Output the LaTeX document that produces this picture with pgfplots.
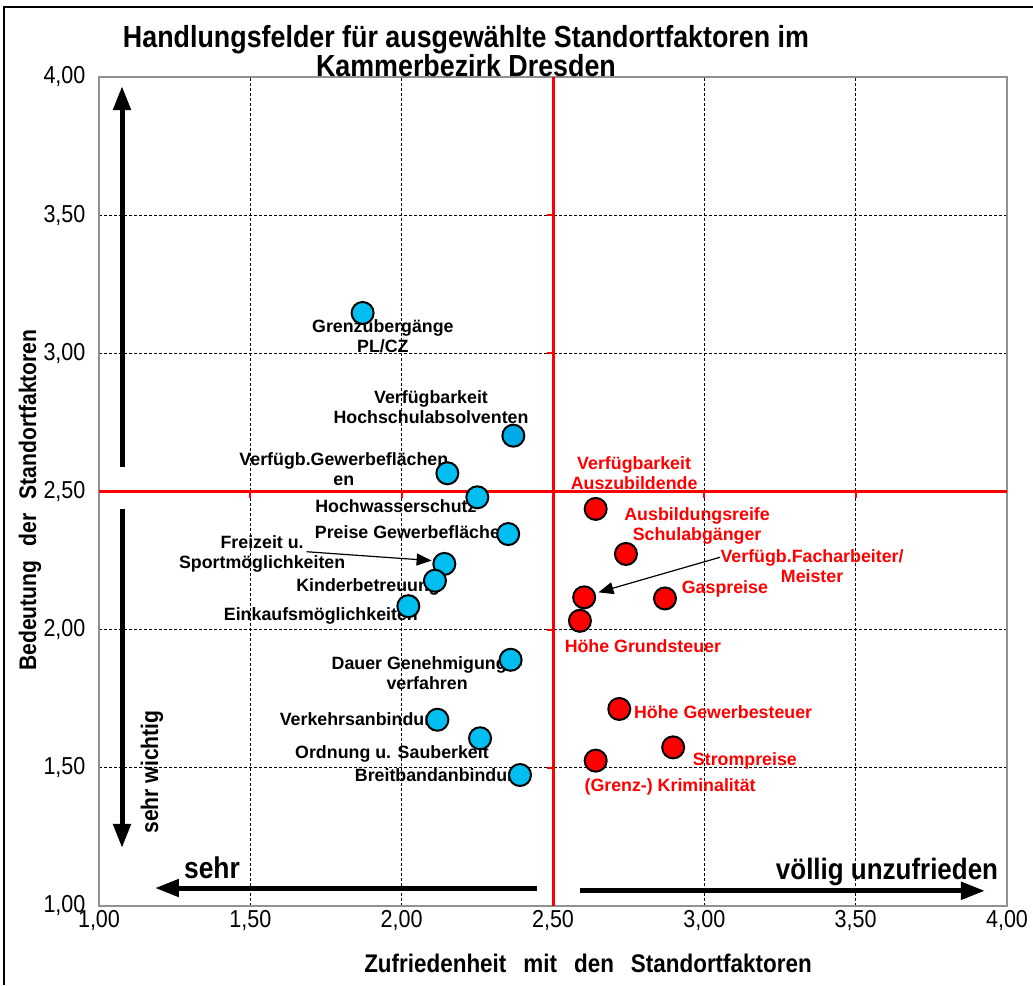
\documentclass[border=0pt]{standalone}
\usepackage{fontspec}
\setmainfont{Liberation Sans}
\newfontfamily\narrowfont[FakeStretch=0.88]{Liberation Sans}
\usepackage{pgfplots}
\pgfplotsset{compat=1.18}
\usetikzlibrary{arrows.meta}
\definecolor{ptblue}{RGB}{0,190,240}
\definecolor{ptblued}{RGB}{0,170,230}
\definecolor{axgray}{RGB}{145,145,145}
\newcommand\lbl{\fontsize{17.8}{20}\selectfont\bfseries}

\begin{document}
\begin{tikzpicture}[x=1pt,y=1pt]
\useasboundingbox (-99,-79) rectangle (934,906);
\fill[white] (-99,-79) rectangle (934,906);
\draw[black,line width=1.5pt] (-95,-79) -- (-95,899) -- (934,899);
\begin{axis}[
  at={(0,0)}, anchor=south west,
  scale only axis, width=908pt, height=829pt,
  xmin=1, xmax=4, ymin=1, ymax=4,
  xtick={1,1.5,2,2.5,3,3.5,4}, ytick={1,1.5,2,2.5,3,3.5,4},
  grid=major,
  grid style={black, line width=0.7pt, dash pattern=on 3pt off 2pt},
  axis line style={axgray, line width=2pt},
  tick style={draw=none},
  ticklabel style={font=\narrowfont\fontsize{24.5}{24.5}\selectfont},
  yticklabel style={xshift=-10pt},
  xticklabel style={yshift=-1pt},
  /pgf/number format/.cd, fixed, fixed zerofill, precision=2, use comma, assume math mode=true,
  /pgfplots/.cd,
  unbounded coords=jump,
]
% red quadrant lines
\addplot[red, line width=3pt] coordinates {(2.5,1) (2.5,4)};
\addplot[red, line width=3pt] coordinates {(1,2.5) (4,2.5)};
\addplot[red, line width=2pt] coordinates {
 (2.48,1.5) (2.5,1.5) (nan,nan) (2.48,2) (2.5,2) (nan,nan)
 (2.48,3) (2.5,3) (nan,nan) (2.48,3.5) (2.5,3.5) (nan,nan)
 (1.5,2.478) (1.5,2.5) (nan,nan) (2,2.478) (2,2.5) (nan,nan)
 (3,2.478) (3,2.5) (nan,nan) (3.5,2.478) (3.5,2.5)};
% big direction arrows
\addplot[black, line width=5pt, -{Triangle[length=24pt,width=17pt]}] coordinates {(1.076,2.587) (1.076,3.967)};
\addplot[black, line width=5pt, -{Triangle[length=24pt,width=17pt]}] coordinates {(1.076,2.435) (1.076,1.210)};
\addplot[black, line width=5pt, -{Triangle[length=24pt,width=17pt]}] coordinates {(2.447,1.065) (1.185,1.065)};
\addplot[black, line width=5pt, -{Triangle[length=24pt,width=17pt]}] coordinates {(2.589,1.055) (3.927,1.055)};
% pointer arrows
\addplot[black, line width=1.2pt, -{Triangle[length=15pt,width=12pt]}] coordinates {(1.686,2.282) (2.099,2.250)};
\addplot[black, line width=1.2pt, -{Triangle[length=15pt,width=12pt]}] coordinates {(3.052,2.262) (2.650,2.135)};
% blue points
\addplot[only marks, mark=*, mark size=11pt, mark options={fill=ptblue, draw=black, line width=2pt}] coordinates {
 (1.871,3.146) (2.151,2.566) (2.250,2.479) (2.352,2.346) (2.141,2.238)
 (2.110,2.177) (2.022,2.085) (2.360,1.891) (2.118,1.674) (2.259,1.607) (2.391,1.474)};
\addplot[only marks, mark=*, mark size=11pt, mark options={fill=ptblued, draw=black, line width=2pt}] coordinates {
 (2.369,2.702)};
% red points
\addplot[only marks, mark=*, mark size=11pt, mark options={fill=red, draw=black, line width=2pt}] coordinates {
 (2.641,2.437) (2.741,2.274) (2.603,2.117) (2.870,2.113) (2.589,2.032)
 (2.719,1.713) (2.897,1.574) (2.641,1.526)};
% labels
\begin{scope}[every node/.style={font=\lbl, align=center, inner sep=0pt}]
\node at (axis cs:1.938,3.063) {Grenzübergänge\\PL/CZ};
\node at (axis cs:2.097,2.806) {Verfügbarkeit\\Hochschulabsolventen};
\node at (axis cs:1.809,2.581) {Verfügb.Gewerbeflächen\\en};
\node at (axis cs:1.981,2.448) {Hochwasserschutz};
\node at (axis cs:2.037,2.353) {Preise Gewerbeflächen};
\node at (axis cs:1.539,2.274) {Freizeit u.\\Sportmöglichkeiten};
\node at (axis cs:1.889,2.154) {Kinderbetreuung};
\node at (axis cs:1.733,2.049) {Einkaufsmöglichkeiten};
\node at (axis cs:2.084,1.843) {Dauer Genehmigungs-\\verfahren};
\node at (axis cs:1.872,1.669) {Verkehrsanbindung};
\node at (axis cs:1.968,1.550) {Ordnung u. Sauberkeit};
\node at (axis cs:2.133,1.467) {Breitbandanbindung};
\node[text=red] at (axis cs:2.768,2.567) {Verfügbarkeit\\Auszubildende};
\node[text=red] at (axis cs:2.976,2.375) {Ausbildungsreife\\Schulabgänger};
\node[text=red] at (axis cs:3.356,2.230) {Verfügb.Facharbeiter/\\Meister};
\node[text=red] at (axis cs:3.068,2.147) {Gaspreise};
\node[text=red] at (axis cs:2.797,1.941) {Höhe Grundsteuer};
\node[text=red] at (axis cs:3.062,1.702) {Höhe Gewerbesteuer};
\node[text=red] at (axis cs:3.134,1.525) {Strompreise};
\node[text=red] at (axis cs:2.887,1.431) {(Grenz-) Kriminalität};
\end{scope}
\end{axis}
% annotations outside / on axis
\node[font=\narrowfont\fontsize{30.5}{27}\selectfont\bfseries, align=center, inner sep=0pt] at (367,855)
  {Handlungsfelder für ausgewählte Standortfaktoren im\\Kammerbezirk Dresden};
\node[font=\narrowfont\fontsize{24}{24}\selectfont\bfseries, rotate=90, inner sep=0pt] at (53,134) {sehr wichtig};
\node[font=\narrowfont\fontsize{30}{30}\selectfont\bfseries, inner sep=0pt] at (113,38) {sehr};
\node[font=\narrowfont\fontsize{29.5}{29.5}\selectfont\bfseries, inner sep=0pt] at (788,34) {völlig unzufrieden};
\node[font=\narrowfont\fontsize{25.5}{25.5}\selectfont\bfseries, inner sep=0pt] at (489,-57)
  {Zufriedenheit\hspace{17pt}mit\hspace{17pt}den\hspace{17pt}Standortfaktoren};
\node[font=\narrowfont\fontsize{24}{24}\selectfont\bfseries, rotate=90, inner sep=0pt] at (-69,406)
  {Bedeutung\hspace{14pt}der\hspace{14pt}Standortfaktoren};
\end{tikzpicture}
\end{document}
